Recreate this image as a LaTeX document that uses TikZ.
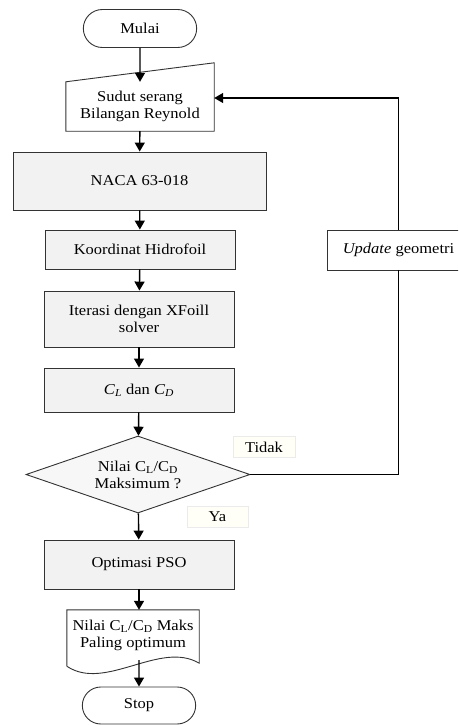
\documentclass[tikz,border=0pt]{standalone}
\usepackage{fontspec}
\setmainfont{Liberation Serif}[FakeStretch=1.1]
\usetikzlibrary{arrows.meta,shapes.misc,shapes.geometric}
\begin{document}
\begin{tikzpicture}[x=1pt,y=-1pt,
  font=\fontsize{15}{17}\selectfont,
  term/.style={draw=black!80, line width=0.9pt, rounded rectangle, fill=white,
    minimum width=120pt, minimum height=38pt},
  proc/.style={draw=black!80, line width=0.9pt, fill=black!5, align=center,
    minimum width=190pt, inner sep=0pt},
  lbl/.style={draw=black!8, fill=yellow!3, minimum height=21pt, inner sep=0pt},
  arr/.style={line width=1.4pt, -{Triangle[length=9pt,width=10pt]}},
  lin/.style={line width=1.4pt}]
  \clip (0,0) rectangle (458,725);
  \fill[white] (0,0) rectangle (458,725);

  % Start
  \node[term] (mulai) at (140,28.5) {Mulai};

  % Eingabe
  \node[minimum width=148pt, minimum height=49pt, align=center, inner sep=0pt] (inp) at (140,106.5)
    {Sudut serang\\Bilangan Reynold};
  \draw[black!80, line width=0.9pt] (inp.south west) -- (inp.north west)
    -- ([yshift=19pt]inp.north east) -- (inp.south east) -- cycle;

  % Prozess
  \node[proc, minimum width=253pt, minimum height=58pt] (naca) at (139.5,181) {NACA 63-018};
  \node[proc, minimum height=39pt] (koord) at (140,249.5) {Koordinat Hidrofoil};
  \node[proc, minimum height=56pt] (iter) at (139,319) {Iterasi dengan XFoill\\solver};
  \node[proc, minimum height=44pt] (cl) at (139,390)
    {\textit{C}\textsubscript{\textit{L}} dan \textit{C}\textsubscript{\textit{D}}};

  % Entscheidung
  \node[draw=black!80, line width=0.9pt, diamond, fill=black!3, aspect=2.9, inner sep=0pt,
    minimum width=224pt, minimum height=77pt, align=center] (dec) at (138,474.5)
    {Nilai C\textsubscript{L}/C\textsubscript{D}\\Maksimum ?};
  \node[lbl, minimum width=62pt] (tidak) at (264,447) {Tidak};
  \node[lbl, minimum width=61pt] (ya) at (217.5,517) {Ya};

  % Rueckfuehrung
  \node[draw=black!80, line width=0.9pt, fill=white, minimum width=143pt, minimum height=40pt]
    (upd) at (398.5,250) {\textit{Update} geometri};

  \node[proc, minimum height=49pt] (pso) at (139,564.5) {Optimasi PSO};

  % Ausgabe
  \node[minimum width=132pt, minimum height=50pt, align=center, inner sep=0pt] (doc) at (133,635)
    {Nilai C\textsubscript{L}/C\textsubscript{D} Maks\\Paling optimum};
  \draw[black!80, line width=0.9pt] ([yshift=-6pt]doc.south west) -- (doc.north west)
    -- (doc.north east) -- ([yshift=-3pt]doc.south east)
    .. controls (160,640) and (105,692) .. ([yshift=-6pt]doc.south west);

  % Ende
  \node[term, minimum height=37pt] (stop) at (139,705.5) {Stop};

  % Pfeile
  \draw[arr] (mulai) -- (mulai.south |- inp.north);
  \draw[arr] (inp) -- (naca);
  \draw[arr] (naca) -- (koord);
  \draw[arr] (koord) -- (iter);
  \draw[arr] (iter) -- (cl);
  \draw[arr] (cl) -- (dec);
  \draw[arr] (dec) -- (pso);
  \draw[arr] (pso) -- (pso.south |- doc.north);
  \draw[arr] (doc.south -| stop.north) -- (stop);
  \draw[lin] (dec.east) -| (upd.south);
  \draw[arr] (upd.north) |- ([yshift=8.5pt]inp.east);
\end{tikzpicture}
\end{document}
